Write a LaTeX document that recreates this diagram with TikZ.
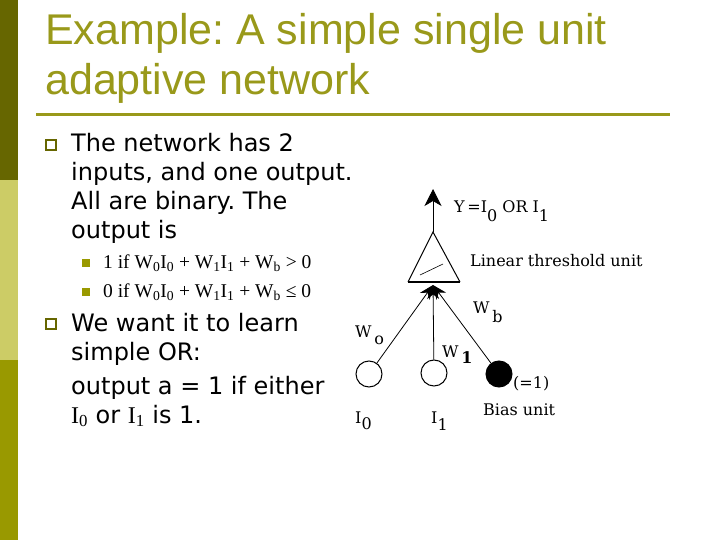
\documentclass[tikz,border=0pt]{standalone}
\usepackage{fontspec}
\setmainfont{Liberation Serif}
\newfontfamily\titlefont{Liberation Sans}
\newfontfamily\bodyfont{DejaVu Sans}
\newfontfamily\netfont{DejaVu Serif}
\usetikzlibrary{arrows.meta}
\definecolor{barDark}{RGB}{102,102,0}
\definecolor{barLight}{RGB}{204,204,102}
\definecolor{barMid}{RGB}{153,153,0}
\definecolor{titleOlive}{RGB}{153,153,26}
\frenchspacing
\begin{document}
\begin{tikzpicture}[x=1pt,y=-1pt,
    titletext/.style={anchor=base west, inner sep=0pt, text=titleOlive, font=\titlefont\fontsize{43}{50}\selectfont},
    bodytext/.style={anchor=base west, inner sep=0pt, font=\bodyfont\fontsize{24}{29}\selectfont},
    subtext/.style={anchor=base west, inner sep=0pt, font=\fontsize{19.5}{22}\selectfont},
    netlabel/.style={anchor=base west, inner sep=0pt, font=\netfont\fontsize{16}{19}\selectfont},
    hollowbullet/.style={draw=barDark, line width=2.2pt, minimum size=10pt, inner sep=0pt},
    solidbullet/.style={fill=barMid, minimum size=7.5pt, inner sep=0pt},
    unit/.style={circle, draw, line width=1pt, minimum size=26pt, inner sep=0pt},
    wire/.style={line width=0.8pt, -{Stealth[length=14pt,width=12pt]}}]
    \useasboundingbox (0,0) rectangle (720,540);
    \fill[barDark] (0,0) rectangle (18,180);
    \fill[barLight] (0,180) rectangle (18,360);
    \fill[barMid] (0,360) rectangle (18,540);
    \node[titletext] (title1) at (45,45) {Example: A simple single unit};
    \node[titletext] (title2) at (45,95) {adaptive network};
    \draw[titleOlive, line width=3pt] (36,115) -- (670,115);
    \node[hollowbullet] (bul1) at (51,145) {};
    \node[bodytext] (line1) at (71,152) {The network has 2};
    \node[bodytext] (line2) at (71,181) {inputs, and one output.};
    \node[bodytext] (line3) at (71,210) {All are binary. The};
    \node[bodytext] (line4) at (71,239) {output is};
    \node[solidbullet] (sub1) at (86,263) {};
    \node[subtext] (cond1) at (103,268) {1 if W\textsubscript{0}I\textsubscript{0} + W\textsubscript{1}I\textsubscript{1} + W\textsubscript{b} > 0};
    \node[solidbullet] (sub2) at (86,292) {};
    \node[subtext] (cond2) at (103,297) {0 if W\textsubscript{0}I\textsubscript{0} + W\textsubscript{1}I\textsubscript{1} + W\textsubscript{b} ≤ 0};
    \node[hollowbullet] (bul2) at (51,324) {};
    \node[bodytext] (line5) at (71,331) {We want it to learn};
    \node[bodytext] (line6) at (71,360) {simple OR:};
    \node[bodytext] (line7) at (71,394) {output a = 1 if either};
    \node[bodytext] (line8) at (71,423) {{\rmfamily I}\textsubscript{\rmfamily 0} or {\rmfamily I}\textsubscript{\rmfamily 1} is 1.};
    \coordinate (apex) at (433,232);
    \coordinate (left) at (408,282);
    \coordinate (right) at (460,282);
    \coordinate (base) at (433,285);
    \coordinate (top) at (433,189);
    \draw[line width=1pt, line join=miter] (left) -- (apex) -- (right);
    \draw[line width=2pt] (left) -- (right);
    \draw[line width=0.6pt] (420,275) -- (443,264);
    \draw[line width=0.8pt, -{Stealth[length=17pt,width=17pt,inset=5pt]}] (apex) -- (top);
    \node[unit] (in0) at (369,374) {};
    \node[unit] (in1) at (434,373) {};
    \node[unit, fill=black] (bias) at (499,374) {};
    \draw[wire] (in0) -- (base);
    \draw[wire] (in1) -- (base);
    \draw[wire] (bias) -- (base);
    \node[netlabel] (yout) at (454,213) {Y\,=I\raisebox{-9pt}{0} OR I\raisebox{-9pt}{1}};
    \node[netlabel] (ltu) at (470,266) {Linear threshold unit};
    \node[netlabel] (wzero) at (355,337) {W\,\raisebox{-7pt}{o}};
    \node[netlabel] (wone) at (442,357) {W\,\raisebox{-6pt}{\bfseries 1}};
    \node[netlabel] (wbias) at (473,313) {W\,\raisebox{-9pt}{b}};
    \node[netlabel] (biasval) at (513,388) {(=1)};
    \node[netlabel] (biaslbl) at (483,415) {Bias unit};
    \node[netlabel] (izero) at (355,423) {I\raisebox{-6pt}{0}};
    \node[netlabel] (ione) at (431,423) {I\raisebox{-7pt}{1}};
\end{tikzpicture}
\end{document}
